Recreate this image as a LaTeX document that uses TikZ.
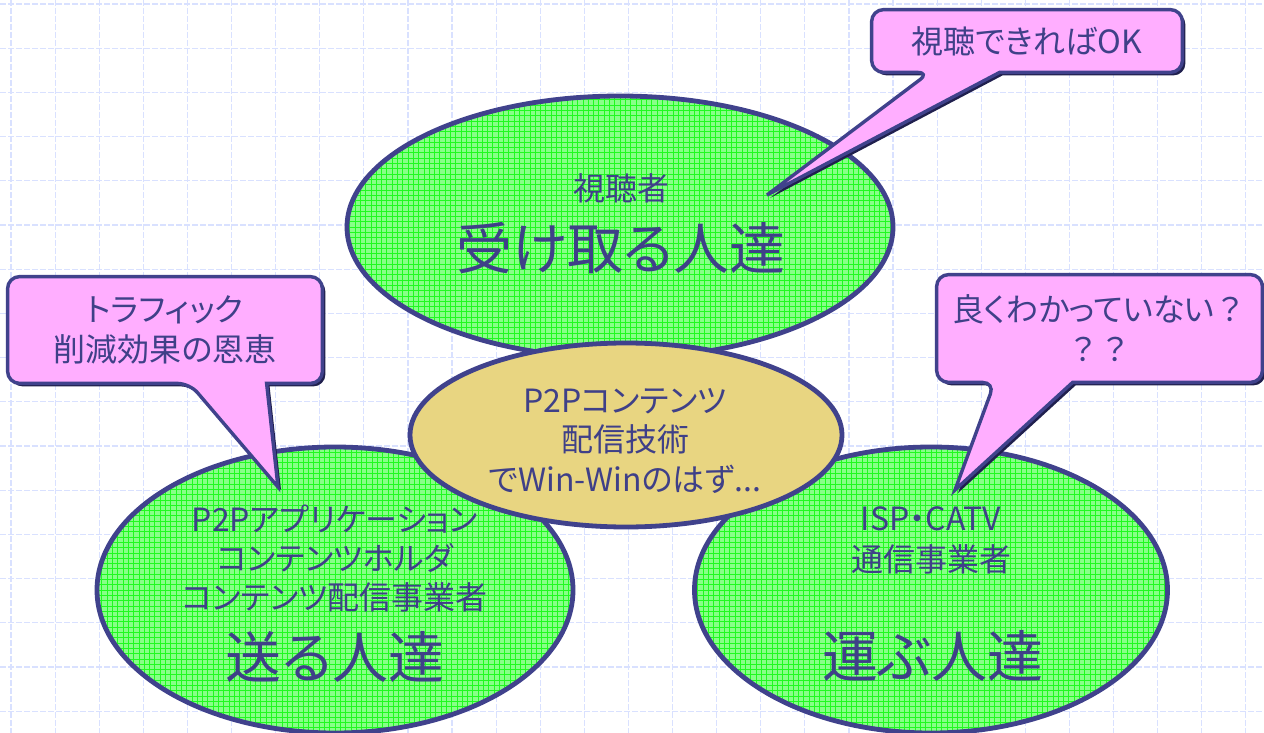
\documentclass[tikz,border=0pt]{standalone}
\usepackage{fontspec}
\setmainfont{Noto Sans CJK JP}[RawFeature=+palt]
\newfontfamily\fullwidth{Noto Sans CJK JP}
\usetikzlibrary{shapes.geometric,shadows}

\definecolor{rim}{HTML}{40428C}
\definecolor{ink}{HTML}{3F4088}
\definecolor{leaf}{HTML}{88FF88}
\definecolor{mesh}{HTML}{20FA20}
\definecolor{sand}{HTML}{E8D581}
\definecolor{pinkish}{HTML}{FFAEFF}
\definecolor{shade}{HTML}{20204E}
\definecolor{paper}{HTML}{D9E1FF}

\pgfdeclarelayer{balloons}
\pgfdeclarelayer{front}
\pgfsetlayers{main,balloons,front}

\tikzstyle{actor}= [ellipse,draw=rim,line width=2.4pt,fill=leaf,inner sep=0pt,
  path picture={\draw[mesh,line width=0.35pt] (path picture bounding box.south west) grid[step=2.65pt] (path picture bounding box.north east);}]
\tikzstyle{core}= [ellipse,draw=rim,line width=2.4pt,fill=sand,inner sep=0pt]
\tikzstyle{smalltext}= [text=ink,inner sep=0pt,align=center,font=\fontsize{16}{19.5}\selectfont]
\tikzstyle{bigtext}= [text=ink,inner sep=0pt,font=\fontsize{28}{34}\selectfont]
\tikzstyle{balloontext}= [text=ink,inner sep=0pt,align=center,font=\fontsize{16}{20}\selectfont]
\tikzstyle{balloon}= [draw=rim,line width=1.7pt,fill=pinkish,
  drop shadow={shadow xshift=1.5pt,shadow yshift=-1.5pt,fill=shade,opacity=1}]
\tikzstyle{paperline}= [paper,line width=0.6pt,dash pattern=on 3pt off 1pt]

\begin{document}
\begin{tikzpicture}[x=0.5pt,y=-0.5pt]

		\useasboundingbox[fill=white] (0,0) rectangle (1264,733);

		% squared paper
		\foreach \gx in {0,...,28}
			\draw[paperline] (11+44.1*\gx,0) -- (11+44.1*\gx,733);
		\foreach \gy in {0,...,16}
			\draw[paperline] (0,4+44.2*\gy) -- (1264,4+44.2*\gy);

		% the three groups
		\node (recv) at (620,227) [actor,minimum width=273pt,minimum height=131pt] {};
		\node (send) at (335,590) [actor,minimum width=238pt,minimum height=143pt] {};
		\node (carry) at (931,590) [actor,minimum width=236.5pt,minimum height=143pt] {};
		\node (tech) at (626,435) [core,minimum width=216pt,minimum height=92pt] {};

		\node (recvA) at (621,188) [smalltext] {視聴者};
		\node (recvB) at (621,248) [bigtext] {受け取る人達};

		\node (sendA) at (335,559) [smalltext] {P2Pアプリケーション\\コンテンツホルダ\\コンテンツ配信事業者};
		\node (sendB) at (335,657) [bigtext] {送る人達};

		\node (carryA) at (931,540) [smalltext,font=\fontsize{16}{20.5}\selectfont] {ISP・CATV\\通信事業者};
		\node (carryB) at (933,656) [bigtext] {運ぶ人達};

		\node (techA) at (625,441) [smalltext,font=\fontsize{16}{19.75}\selectfont] {P2Pコンテンツ\\配信技術\\でWin-Winのはず...};

		% callouts
		\coordinate (okTip) at (767,195);
		\coordinate (trafTip) at (278,487);
		\coordinate (knowTip) at (955,490);

		\begin{pgfonlayer}{front}
		\node (okBox) at (1027,41) [balloontext,minimum width=155pt,minimum height=31pt] {視聴できればOK};
		\node (trafBox) at (165,330) [balloontext,minimum width=157pt,minimum height=53pt] {トラフィック\\削減効果の恩恵};
		\node (knowBox) at (1099.5,328.5) [balloontext,minimum width=162.5pt,minimum height=53.5pt] {良くわかっていない{\fullwidth ？}\\{\fullwidth ？？}};
		\end{pgfonlayer}

		\begin{pgfonlayer}{balloons}
		\path[balloon] (okTip) -- ([xshift=64pt]okBox.south west) [rounded corners=6pt] -- (okBox.south east) -- (okBox.north east) -- (okBox.north west) -- (okBox.south west) -- ([xshift=29pt]okBox.south west) [sharp corners] -- cycle;
		\path[balloon] (trafTip) -- ([xshift=129.5pt]trafBox.south west) [rounded corners=6pt] -- (trafBox.south east) -- (trafBox.north east) -- (trafBox.north west) -- (trafBox.south west) -- ([xshift=91pt]trafBox.south west) [sharp corners] -- cycle;
		\path[balloon] (knowTip) -- ([xshift=68pt]knowBox.south west) [rounded corners=6pt] -- (knowBox.south east) -- (knowBox.north east) -- (knowBox.north west) -- (knowBox.south west) -- ([xshift=29pt]knowBox.south west) [sharp corners] -- cycle;
		\end{pgfonlayer}

\end{tikzpicture}
\end{document}
